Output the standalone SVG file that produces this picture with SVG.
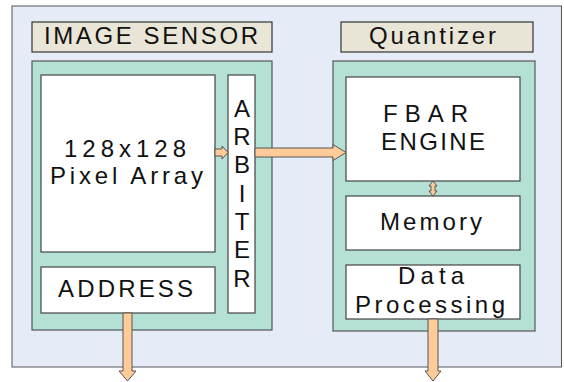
<svg xmlns="http://www.w3.org/2000/svg" width="564" height="382" viewBox="0 0 564 382">
<style>
.bg{fill:#E6ECF7;stroke:#555;stroke-width:1}
.lbl{fill:#E9E5D7;stroke:#333;stroke-width:1.2}
.panel{fill:#B4E0D6;stroke:#555;stroke-width:1.2}
.box{fill:#FFFFFF;stroke:#444;stroke-width:1.2}
.t{font-family:"Liberation Sans",Arial,sans-serif;font-size:24px;fill:#111}
.arr{fill:#FFCC99;stroke:#555;stroke-width:1}
</style>
<rect class="bg" x="12" y="6" width="549.5" height="361"/>
<g id="image-sensor-label">
<rect class="lbl" x="32" y="22" width="240" height="30"/>
<text class="t" x="44" y="44" textLength="214" lengthAdjust="spacing">IMAGE SENSOR</text>
</g>
<g id="quantizer-label">
<rect class="lbl" x="341" y="22" width="192" height="30"/>
<text class="t" x="369" y="44" textLength="127" lengthAdjust="spacing">Quantizer</text>
</g>
<g id="image-sensor-panel">
<rect class="panel" x="32" y="61" width="240" height="269"/>
</g>
<g id="quantizer-panel">
<rect class="panel" x="333" y="61" width="202" height="270"/>
</g>
<g id="pixel-array">
<rect class="box" x="41" y="75" width="174" height="177"/>
<text class="t" x="64" y="157" textLength="122" lengthAdjust="spacing">128x128</text>
<text class="t" x="50" y="184" textLength="153" lengthAdjust="spacing">Pixel Array</text>
</g>
<g id="arbiter">
<rect class="box" x="228" y="75" width="27" height="238"/>
<g class="t" text-anchor="middle">
<text x="242" y="117">A</text>
<text x="242" y="145">R</text>
<text x="242" y="173">B</text>
<text x="242" y="202">I</text>
<text x="242" y="230">T</text>
<text x="242" y="258">E</text>
<text x="242" y="287">R</text>
</g>
</g>
<g id="address">
<rect class="box" x="41" y="267" width="174" height="46"/>
<text class="t" x="58" y="297" textLength="135" lengthAdjust="spacing">ADDRESS</text>
</g>
<g id="fbar-engine">
<rect class="box" x="346" y="77" width="174" height="104"/>
<text class="t" x="383" y="122" textLength="85" lengthAdjust="spacing">FBAR</text>
<text class="t" x="381" y="150" textLength="104" lengthAdjust="spacing">ENGINE</text>
</g>
<g id="memory">
<rect class="box" x="346" y="196" width="174" height="54"/>
<text class="t" x="380" y="230" textLength="102" lengthAdjust="spacing">Memory</text>
</g>
<g id="data-processing">
<rect class="box" x="346" y="265" width="174" height="54"/>
<text class="t" x="398" y="284" textLength="66" lengthAdjust="spacing">Data</text>
<text class="t" x="355" y="313" textLength="150" lengthAdjust="spacing">Processing</text>
</g>
<g id="connectors">
<polygon class="arr" points="215,149 222,149 222,146 228,152.5 222,159 222,156 215,156"/>
<polygon class="arr" points="255,148 333,148 333,144.5 346,152.5 333,160.5 333,157 255,157"/>
<polygon class="arr" points="433,181 437,186 435,186 435,191 437,191 433,196 429,191 431,191 431,186 429,186"/>
<polygon class="arr" points="123,313 132,313 132,371 136,371 127.5,381 119,371 123,371"/>
<polygon class="arr" points="428,319 438,319 438,371 441,371 433,381 425,371 428,371"/>
</g>
</svg>
